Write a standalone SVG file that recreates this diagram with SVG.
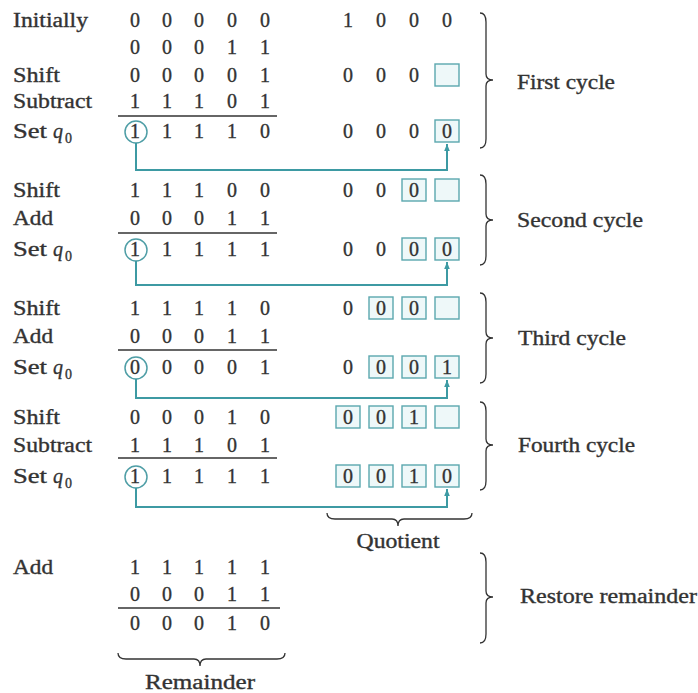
<svg xmlns="http://www.w3.org/2000/svg" width="698" height="693" viewBox="0 0 698 693" font-family="Liberation Serif, serif">
<defs>
<style>
text{font-family:'Liberation Serif','Times New Roman',serif;font-size:20px;fill:#333;stroke:#333;stroke-width:0.35}
.d{text-anchor:middle}
.it{font-style:italic}
.sub{font-size:14px}
.rule{stroke:#333;stroke-width:1.6;fill:none}
.box{fill:#eef8f9;stroke:#5ba7ae;stroke-width:1.4}
.circ{fill:none;stroke:#4f9ea6;stroke-width:1.5}
.conn{fill:none;stroke:#3d9aa3;stroke-width:2}
.brace{fill:none;stroke:#333;stroke-width:1.3}
</style>
<marker id="ah" viewBox="0 0 10 10" refX="10" refY="5" markerWidth="7" markerHeight="7" orient="auto" markerUnits="userSpaceOnUse">
<path d="M0,1 L10,5 L0,9 Z" fill="#3d9aa3"/>
</marker>
</defs>
<rect width="698" height="693" fill="#fff"/>

<g id="cycle1">
<text x="13" y="27" textLength="75" lengthAdjust="spacingAndGlyphs">Initially</text>
<g class="d"><text x="135" y="27">0</text><text x="167" y="27">0</text><text x="199" y="27">0</text><text x="232" y="27">0</text><text x="265" y="27">0</text></g>
<g class="d"><text x="135" y="54">0</text><text x="167" y="54">0</text><text x="199" y="54">0</text><text x="232" y="54">1</text><text x="265" y="54">1</text></g>
<text x="13" y="82" textLength="47" lengthAdjust="spacingAndGlyphs">Shift</text>
<g class="d"><text x="135" y="82">0</text><text x="167" y="82">0</text><text x="199" y="82">0</text><text x="232" y="82">0</text><text x="265" y="82">1</text></g>
<text x="13" y="108" textLength="79" lengthAdjust="spacingAndGlyphs">Subtract</text>
<g class="d"><text x="135" y="108">1</text><text x="167" y="108">1</text><text x="199" y="108">1</text><text x="232" y="108">0</text><text x="265" y="108">1</text></g>
<line class="rule" x1="118" y1="116" x2="277" y2="116"/>
<text x="13" y="138" textLength="34" lengthAdjust="spacingAndGlyphs">Set</text><text class="it" x="53" y="138">q</text><text class="sub" x="65" y="143">0</text>
<g class="d"><text x="135" y="138">1</text><text x="167" y="138">1</text><text x="199" y="138">1</text><text x="232" y="138">1</text><text x="265" y="138">0</text></g>
<ellipse class="circ" cx="136" cy="132" rx="11" ry="11"/>
<g class="d"><text x="348" y="27">1</text><text x="381" y="27">0</text><text x="414" y="27">0</text><text x="447" y="27">0</text></g>
<g class="d"><text x="348" y="82">0</text><text x="381" y="82">0</text><text x="414" y="82">0</text></g>
<rect class="box" x="435" y="64" width="24" height="22"/>
<g class="d"><text x="348" y="138">0</text><text x="381" y="138">0</text><text x="414" y="138">0</text></g>
<rect class="box" x="435" y="120" width="24" height="22"/><text class="d" x="447" y="138">0</text>
<path class="brace" d="M480,13 Q486,13 486,22 L486,74 Q486,80 493,80 Q486,80 486,86 L486,139 Q486,148 480,148"/>
<text x="517" y="89" textLength="98" lengthAdjust="spacingAndGlyphs">First cycle</text>
</g>

<g id="cycle2">
<text x="13" y="197" textLength="47" lengthAdjust="spacingAndGlyphs">Shift</text>
<g class="d"><text x="135" y="197">1</text><text x="167" y="197">1</text><text x="199" y="197">1</text><text x="232" y="197">0</text><text x="265" y="197">0</text></g>
<text x="13" y="225" textLength="40" lengthAdjust="spacingAndGlyphs">Add</text>
<g class="d"><text x="135" y="225">0</text><text x="167" y="225">0</text><text x="199" y="225">0</text><text x="232" y="225">1</text><text x="265" y="225">1</text></g>
<line class="rule" x1="118" y1="233" x2="277" y2="233"/>
<text x="13" y="256" textLength="34" lengthAdjust="spacingAndGlyphs">Set</text><text class="it" x="53" y="256">q</text><text class="sub" x="65" y="261">0</text>
<g class="d"><text x="135" y="256">1</text><text x="167" y="256">1</text><text x="199" y="256">1</text><text x="232" y="256">1</text><text x="265" y="256">1</text></g>
<ellipse class="circ" cx="136" cy="250" rx="11" ry="11"/>
<g class="d"><text x="348" y="197">0</text><text x="381" y="197">0</text></g>
<rect class="box" x="402" y="179" width="24" height="22"/><text class="d" x="414" y="197">0</text>
<rect class="box" x="435" y="179" width="24" height="22"/>
<g class="d"><text x="348" y="256">0</text><text x="381" y="256">0</text></g>
<rect class="box" x="402" y="238" width="24" height="22"/><text class="d" x="414" y="256">0</text>
<rect class="box" x="435" y="238" width="24" height="22"/><text class="d" x="447" y="256">0</text>
<path class="brace" d="M480,175 Q486,175 486,184 L486,214 Q486,220 493,220 Q486,220 486,226 L486,256 Q486,265 480,265"/>
<text x="517" y="227" textLength="126" lengthAdjust="spacingAndGlyphs">Second cycle</text>
</g>

<g id="cycle3">
<text x="13" y="315" textLength="47" lengthAdjust="spacingAndGlyphs">Shift</text>
<g class="d"><text x="135" y="315">1</text><text x="167" y="315">1</text><text x="199" y="315">1</text><text x="232" y="315">1</text><text x="265" y="315">0</text></g>
<text x="13" y="343" textLength="40" lengthAdjust="spacingAndGlyphs">Add</text>
<g class="d"><text x="135" y="343">0</text><text x="167" y="343">0</text><text x="199" y="343">0</text><text x="232" y="343">1</text><text x="265" y="343">1</text></g>
<line class="rule" x1="118" y1="350" x2="277" y2="350"/>
<text x="13" y="374" textLength="34" lengthAdjust="spacingAndGlyphs">Set</text><text class="it" x="53" y="374">q</text><text class="sub" x="65" y="379">0</text>
<g class="d"><text x="135" y="374">0</text><text x="167" y="374">0</text><text x="199" y="374">0</text><text x="232" y="374">0</text><text x="265" y="374">1</text></g>
<ellipse class="circ" cx="136" cy="368" rx="11" ry="11"/>
<text class="d" x="348" y="315">0</text>
<rect class="box" x="369" y="297" width="24" height="22"/><text class="d" x="381" y="315">0</text>
<rect class="box" x="402" y="297" width="24" height="22"/><text class="d" x="414" y="315">0</text>
<rect class="box" x="435" y="297" width="24" height="22"/>
<text class="d" x="348" y="374">0</text>
<rect class="box" x="369" y="356" width="24" height="22"/><text class="d" x="381" y="374">0</text>
<rect class="box" x="402" y="356" width="24" height="22"/><text class="d" x="414" y="374">0</text>
<rect class="box" x="435" y="356" width="24" height="22"/><text class="d" x="447" y="374">1</text>
<path class="brace" d="M480,293 Q486,293 486,302 L486,332 Q486,338 493,338 Q486,338 486,344 L486,374 Q486,383 480,383"/>
<text x="518" y="345" textLength="108" lengthAdjust="spacingAndGlyphs">Third cycle</text>
</g>

<g id="cycle4">
<text x="13" y="424" textLength="47" lengthAdjust="spacingAndGlyphs">Shift</text>
<g class="d"><text x="135" y="424">0</text><text x="167" y="424">0</text><text x="199" y="424">0</text><text x="232" y="424">1</text><text x="265" y="424">0</text></g>
<text x="13" y="452" textLength="79" lengthAdjust="spacingAndGlyphs">Subtract</text>
<g class="d"><text x="135" y="452">1</text><text x="167" y="452">1</text><text x="199" y="452">1</text><text x="232" y="452">0</text><text x="265" y="452">1</text></g>
<line class="rule" x1="118" y1="458" x2="277" y2="458"/>
<text x="13" y="483" textLength="34" lengthAdjust="spacingAndGlyphs">Set</text><text class="it" x="53" y="483">q</text><text class="sub" x="65" y="488">0</text>
<g class="d"><text x="135" y="483">1</text><text x="167" y="483">1</text><text x="199" y="483">1</text><text x="232" y="483">1</text><text x="265" y="483">1</text></g>
<ellipse class="circ" cx="136" cy="477" rx="11" ry="11"/>
<rect class="box" x="336" y="406" width="24" height="22"/><text class="d" x="348" y="424">0</text>
<rect class="box" x="369" y="406" width="24" height="22"/><text class="d" x="381" y="424">0</text>
<rect class="box" x="402" y="406" width="24" height="22"/><text class="d" x="414" y="424">1</text>
<rect class="box" x="435" y="406" width="24" height="22"/>
<rect class="box" x="336" y="465" width="24" height="22"/><text class="d" x="348" y="483">0</text>
<rect class="box" x="369" y="465" width="24" height="22"/><text class="d" x="381" y="483">0</text>
<rect class="box" x="402" y="465" width="24" height="22"/><text class="d" x="414" y="483">1</text>
<rect class="box" x="435" y="465" width="24" height="22"/><text class="d" x="447" y="483">0</text>
<path class="brace" d="M480,402 Q486,402 486,411 L486,439 Q486,445 493,445 Q486,445 486,451 L486,481 Q486,490 480,490"/>
<text x="518" y="452" textLength="117" lengthAdjust="spacingAndGlyphs">Fourth cycle</text>
<path class="brace" d="M327,513 Q327,519 335,519 L392,519 Q398,519 398,526 Q398,519 404,519 L464,519 Q472,519 472,513"/>
<text class="d" x="398" y="548" textLength="83" lengthAdjust="spacingAndGlyphs">Quotient</text>
</g>

<g id="restore">
<text x="13" y="574" textLength="40" lengthAdjust="spacingAndGlyphs">Add</text>
<g class="d"><text x="135" y="574">1</text><text x="167" y="574">1</text><text x="199" y="574">1</text><text x="232" y="574">1</text><text x="265" y="574">1</text></g>
<g class="d"><text x="135" y="601">0</text><text x="167" y="601">0</text><text x="199" y="601">0</text><text x="232" y="601">1</text><text x="265" y="601">1</text></g>
<line class="rule" x1="118" y1="608" x2="280" y2="608"/>
<g class="d"><text x="135" y="630">0</text><text x="167" y="630">0</text><text x="199" y="630">0</text><text x="232" y="630">1</text><text x="265" y="630">0</text></g>
<path class="brace" d="M118,653 Q118,659 126,659 L194,659 Q200,659 200,666 Q200,659 206,659 L277,659 Q285,659 285,653"/>
<text class="d" x="200" y="689" textLength="110" lengthAdjust="spacingAndGlyphs">Remainder</text>
<path class="brace" d="M480,553 Q486,553 486,562 L486,591 Q486,597 493,597 Q486,597 486,603 L486,634 Q486,643 480,643"/>
<text x="520" y="603" textLength="177" lengthAdjust="spacingAndGlyphs">Restore remainder</text>
</g>

<g id="connectors">
<path class="conn" d="M136,143 V170 H447 V144" marker-end="url(#ah)"/>
<path class="conn" d="M136,261 V285 H447 V262" marker-end="url(#ah)"/>
<path class="conn" d="M136,379 V398 H447 V380" marker-end="url(#ah)"/>
<path class="conn" d="M136,488 V507 H447 V489" marker-end="url(#ah)"/>
</g>
</svg>
